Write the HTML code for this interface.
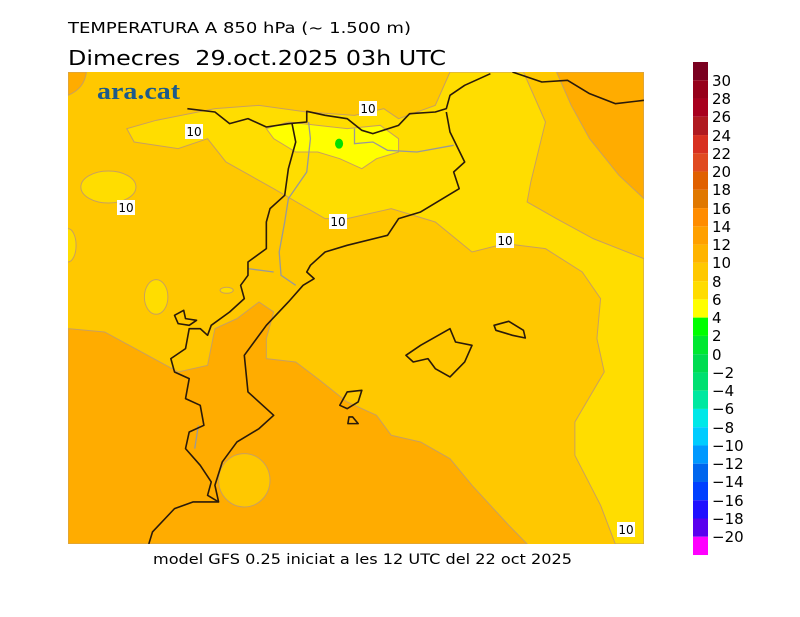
<!DOCTYPE html>
<html><head><meta charset="utf-8"><style>
html,body{margin:0;padding:0;background:#fff;width:800px;height:617px;overflow:hidden}
svg{display:block}
text{font-family:"DejaVu Sans","Liberation Sans",sans-serif}
</style></head><body>
<svg width="800" height="617" viewBox="0 0 800 617" xmlns="http://www.w3.org/2000/svg">
<text x="68" y="33" font-size="15" textLength="343" lengthAdjust="spacingAndGlyphs">TEMPERATURA A 850 hPa (~ 1.500 m)</text>
<text x="68" y="65" font-size="20" textLength="378" lengthAdjust="spacingAndGlyphs" xml:space="preserve">Dimecres  29.oct.2025 03h UTC</text>
<text x="153" y="564" font-size="14" textLength="419" lengthAdjust="spacingAndGlyphs">model GFS 0.25 iniciat a les 12 UTC del 22 oct 2025</text>
<clipPath id="c"><rect x="68" y="72" width="576" height="472"/></clipPath>
<g clip-path="url(#c)">
<rect x="68" y="72" width="576" height="472" fill="#ffc800"/>
<g transform="translate(68,72) scale(0.3673,0.3333)">
<g stroke="#c8a060" stroke-width="1" vector-effect="non-scaling-stroke">
<path vector-effect="non-scaling-stroke" fill="#ffdd00" d="M1040,0 L1240,0 L1300,150 L1260,330 L1250,390 L1330,440 L1430,500 L1568,560 L1568,1416 L1490,1416 L1450,1300 L1380,1150 L1380,1050 L1460,900 L1440,800 L1450,680 L1400,600 L1300,530 L1190,515 L1100,540 L1000,450 L880,410 L760,440 L700,440 L560,350 L430,270 L380,200 L300,230 L180,210 L160,170 L240,145 L400,110 L520,100 L650,120 L780,130 L860,110 L900,140 L1000,100 Z"/>
<ellipse vector-effect="non-scaling-stroke" cx="110" cy="345" rx="75" ry="48" fill="#ffdd00"/>
<ellipse vector-effect="non-scaling-stroke" cx="240" cy="675" rx="32" ry="52" fill="#ffdd00"/>
<ellipse vector-effect="non-scaling-stroke" cx="432" cy="655" rx="18" ry="9" fill="#ffdd00"/>
<ellipse vector-effect="non-scaling-stroke" cx="0" cy="520" rx="22" ry="50" fill="#ffdd00"/>
<path vector-effect="non-scaling-stroke" fill="#ffac00" d="M0,0 L50,0 Q45,50 0,70 Z"/>
<path vector-effect="non-scaling-stroke" fill="#ffac00" d="M1330,0 L1568,0 L1568,380 L1500,310 L1420,200 L1370,100 Z"/>
<path vector-effect="non-scaling-stroke" fill="#ffac00" d="M0,770 L100,780 L200,840 L300,900 L380,880 L400,770 L460,740 L520,690 L560,720 L540,800 L540,860 L620,870 L680,920 L760,990 L840,1030 L880,1090 L960,1110 L1040,1160 L1100,1240 L1200,1360 L1250,1416 L0,1416 Z"/>
<ellipse vector-effect="non-scaling-stroke" cx="480" cy="1225" rx="70" ry="80" fill="#ffc800"/>
<path vector-effect="non-scaling-stroke" fill="#ffff00" d="M540,170 L600,150 L680,160 L760,170 L850,160 L900,200 L900,240 L840,260 L800,290 L740,260 L680,240 L620,240 L560,200 Z"/>
</g>
<ellipse cx="738" cy="215" rx="11" ry="15" fill="#00e000"/>
<g fill="none" stroke="#999" stroke-width="1.3" vector-effect="non-scaling-stroke">
<path vector-effect="non-scaling-stroke" d="M655,150 L660,200 L650,300 L600,380 L590,450 L575,540 L580,610 L620,640"/>
<path vector-effect="non-scaling-stroke" d="M490,590 L560,600"/>
<path vector-effect="non-scaling-stroke" d="M780,170 L780,215 L830,210 L870,235 L950,240 L1050,220"/>
<path vector-effect="non-scaling-stroke" d="M355,1060 L345,1130"/>
</g>
<g fill="none" stroke="#2a1a0a" stroke-width="1.6" vector-effect="non-scaling-stroke" stroke-linejoin="round">
<path vector-effect="non-scaling-stroke" d="M325,110 L400,120 L440,155 L490,140 L540,165 L600,155 L650,150 L650,118 L700,130 L760,140 L800,175 L830,185 L900,160 L930,125 L1000,120 L1030,110 L1040,70 L1080,40 L1150,5"/>
<path vector-effect="non-scaling-stroke" d="M1210,0 L1290,30 L1360,25 L1420,65 L1490,95 L1568,85"/>
<path vector-effect="non-scaling-stroke" d="M1030,120 L1040,180 L1080,270 L1050,300 L1065,350 L960,420 L900,440 L870,490 L760,520 L700,540 L660,580 L650,600 L670,620 L640,640 L600,690 L540,760 L480,850 L490,960 L560,1030 L520,1070 L460,1110 L420,1170 L400,1240 L410,1290 L340,1290 L290,1310 L230,1380 L220,1416"/>
<path vector-effect="non-scaling-stroke" d="M610,155 L620,210 L600,290 L590,370 L550,410 L540,450 L540,530 L490,570 L490,610 L470,640 L480,680 L440,720 L390,760 L380,790 L360,770 L330,770 L320,830 L280,860 L290,900 L330,920 L320,980 L360,1000 L370,1060 L330,1080 L320,1130 L360,1180 L390,1230 L380,1270 L410,1290"/>
<path vector-effect="non-scaling-stroke" d="M290,730 L315,715 L320,740 L350,745 L330,760 L300,755 Z"/>
<path vector-effect="non-scaling-stroke" d="M920,850 L960,820 L1040,770 L1055,810 L1100,820 L1080,870 L1040,915 L1000,890 L980,860 L940,870 Z"/>
<path vector-effect="non-scaling-stroke" d="M1160,760 L1200,748 L1240,775 L1245,798 L1210,790 L1165,775 Z"/>
<path vector-effect="non-scaling-stroke" d="M740,1000 L760,960 L800,955 L790,990 L760,1010 Z"/>
<path vector-effect="non-scaling-stroke" d="M765,1035 L775,1035 L790,1055 L762,1055 Z"/>
</g>
</g>
<text x="97" y="99" font-family="Liberation Serif,serif" font-weight="bold" font-size="24" fill="#1d5a8a" textLength="83" lengthAdjust="spacingAndGlyphs" style="font-family:'Liberation Serif',serif">ara.cat</text>
<g font-size="12" text-anchor="middle">
<rect x="359" y="101" width="18" height="15" fill="#fff"/><text x="368" y="113">10</text>
<rect x="185" y="124" width="18" height="15" fill="#fff"/><text x="194" y="136">10</text>
<rect x="117" y="200" width="18" height="15" fill="#fff"/><text x="126" y="212">10</text>
<rect x="329" y="214" width="18" height="15" fill="#fff"/><text x="338" y="226">10</text>
<rect x="496" y="233" width="18" height="15" fill="#fff"/><text x="505" y="245">10</text>
<rect x="617" y="522" width="18" height="15" fill="#fff"/><text x="626" y="534">10</text>
</g>
</g>
<g>
<rect x="693" y="62" width="15" height="18.26" fill="#7a0020"/>
<rect x="693" y="80.26" width="15" height="18.26" fill="#96001a"/>
<rect x="693" y="98.52" width="15" height="18.26" fill="#a8001e"/>
<rect x="693" y="116.78" width="15" height="18.26" fill="#b01a20"/>
<rect x="693" y="135.04" width="15" height="18.26" fill="#d83020"/>
<rect x="693" y="153.3" width="15" height="18.26" fill="#e04a20"/>
<rect x="693" y="171.56" width="15" height="18.26" fill="#e06000"/>
<rect x="693" y="189.82" width="15" height="18.26" fill="#e07800"/>
<rect x="693" y="208.08" width="15" height="18.26" fill="#ff8c00"/>
<rect x="693" y="226.34" width="15" height="18.26" fill="#ffa000"/>
<rect x="693" y="244.6" width="15" height="18.26" fill="#ffb400"/>
<rect x="693" y="262.86" width="15" height="18.26" fill="#ffc800"/>
<rect x="693" y="281.12" width="15" height="18.26" fill="#ffdc00"/>
<rect x="693" y="299.38" width="15" height="18.26" fill="#ffff00"/>
<rect x="693" y="317.64" width="15" height="18.26" fill="#00ff00"/>
<rect x="693" y="335.9" width="15" height="18.26" fill="#00e830"/>
<rect x="693" y="354.16" width="15" height="18.26" fill="#00dc50"/>
<rect x="693" y="372.42" width="15" height="18.26" fill="#00e070"/>
<rect x="693" y="390.68" width="15" height="18.26" fill="#00e8a0"/>
<rect x="693" y="408.94" width="15" height="18.26" fill="#00e8e8"/>
<rect x="693" y="427.2" width="15" height="18.26" fill="#00ccff"/>
<rect x="693" y="445.46" width="15" height="18.26" fill="#0099ff"/>
<rect x="693" y="463.72" width="15" height="18.26" fill="#0066ee"/>
<rect x="693" y="481.98" width="15" height="18.26" fill="#0040ff"/>
<rect x="693" y="500.24" width="15" height="18.26" fill="#2010ff"/>
<rect x="693" y="518.5" width="15" height="18.26" fill="#5a00ee"/>
<rect x="693" y="536.76" width="15" height="18.26" fill="#ff00ff"/>
</g>
<g font-size="15">
<text x="712" y="86">30</text><text x="712" y="104">28</text><text x="712" y="122">26</text><text x="712" y="141">24</text><text x="712" y="159">22</text><text x="712" y="177">20</text><text x="712" y="195">18</text><text x="712" y="214">16</text><text x="712" y="232">14</text><text x="712" y="250">12</text><text x="712" y="268">10</text><text x="712" y="287">8</text><text x="712" y="305">6</text><text x="712" y="323">4</text><text x="712" y="341">2</text><text x="712" y="360">0</text><text x="712" y="378">−2</text><text x="712" y="396">−4</text><text x="712" y="414">−6</text><text x="712" y="433">−8</text><text x="712" y="451">−10</text><text x="712" y="469">−12</text><text x="712" y="487">−14</text><text x="712" y="506">−16</text><text x="712" y="524">−18</text><text x="712" y="542">−20</text>
</g>
</svg>
</body></html>
